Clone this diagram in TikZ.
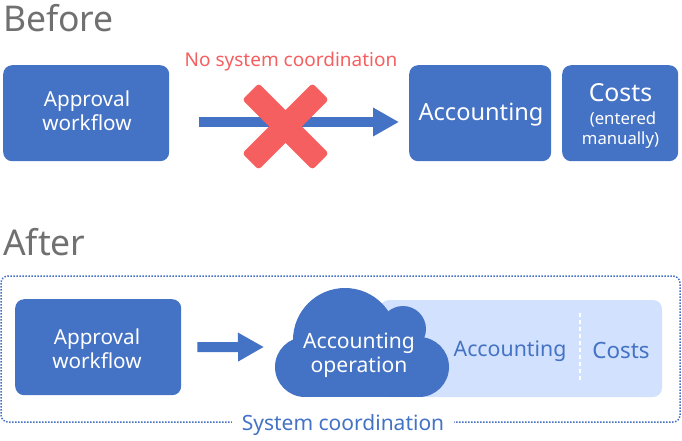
\documentclass[tikz,border=0pt]{standalone}
\usepackage{fontspec}
\setmainfont{Noto Sans}
\usetikzlibrary{arrows.meta}
\definecolor{boxblue}{HTML}{4472C4}
\definecolor{paleblue}{HTML}{D2E1FD}
\definecolor{crossred}{HTML}{F55F5F}
\definecolor{headgray}{HTML}{707070}
\tikzset{
  bluebox/.style={fill=boxblue, rounded corners=9pt, inner sep=0pt, anchor=north west},
  boxtext/.style={text=white, align=center, inner sep=0pt, font=\fontsize{20.7}{24}\selectfont},
  headline/.style={text=headgray, anchor=west, inner sep=0pt, font=\fontsize{35.5}{40}\selectfont},
  flow/.style={draw=boxblue, line width=10pt, -{Triangle[length=26pt,width=27pt]}},
  crossbar/.style={fill=crossred, minimum width=99pt, minimum height=23pt, rounded corners=3pt, inner sep=0pt},
  plainlabel/.style={text=boxblue, inner sep=0pt, font=\fontsize{21.3}{24}\selectfont}
}
\begin{document}
\begin{tikzpicture}[x=1pt, y=-1pt]
  \useasboundingbox (0,0) rectangle (682,440);

  % --- Before ---
  \node[headline] (before) at (3,18) {Before};
  \node[bluebox, minimum width=166pt, minimum height=96pt] (approvalB) at (3,65) {};
  \node[boxtext] (approvalBtext) at (87,111) {Approval\\workflow};
  \node[bluebox, minimum width=142pt, minimum height=96pt] (accountingB) at (409,65) {};
  \node[boxtext, font=\fontsize{23.6}{28}\selectfont] (accountingBtext) at (481,115) {Accounting};
  \node[bluebox, minimum width=116pt, minimum height=96pt] (costsB) at (562,65) {};
  \node[boxtext, font=\fontsize{16.7}{20}\selectfont] (costsBtext) at (620.5,116) {{\fontsize{24.8}{27}\selectfont Costs}\\[3pt]\hspace*{5pt}(entered\\manually)};

  \coordinate (flowStart) at (199,122);
  \coordinate (flowEnd) at (399,122);
  \draw[flow] (flowStart) -- (flowEnd);
  \node[crossbar, rotate=45] (crossA) at (285.5,126.5) {};
  \node[crossbar, rotate=-45] (crossB) at (285.5,126.5) {};
  \node[text=crossred, inner sep=0pt, font=\fontsize{19}{22}\selectfont] (nolink) at (291,62) {No system coordination};

  % --- After ---
  \node[headline] (after) at (3,242) {After};
  \draw[boxblue, line width=1.5pt, dash pattern=on 1.5pt off 1.5pt, rounded corners=7pt] (1,276) rectangle (680,422);
  \node[plainlabel, fill=white, inner xsep=10pt, inner ysep=2pt, font=\fontsize{21}{24}\selectfont] (syslink) at (343,425) {System coordination};

  \node[bluebox, minimum width=166pt, minimum height=96pt] (approvalA) at (15,299) {};
  \node[boxtext] (approvalAtext) at (97,349) {Approval\\workflow};
  \fill[paleblue, rounded corners=9pt] (380,300) rectangle (662,397);
  \draw[white, line width=1.7pt, dash pattern=on 4pt off 3pt] (580,313) -- (580,381);

  % cloud
  \fill[boxblue] (345,340) circle (52pt);
  \fill[boxblue] (403,329) circle (23pt);
  \fill[boxblue] (305,367) circle (30pt);
  \fill[boxblue] (419,367) circle (30pt);
  \fill[boxblue] (305,337) rectangle (419,397);
  \node[boxtext, font=\fontsize{21.1}{24}\selectfont] (cloudtext) at (359,355) {Accounting\\operation};

  \coordinate (flowEndA) at (264,347);
  \draw[flow] (approvalA.east) -- (flowEndA) [shorten <=16pt];

  \node[plainlabel] (accountingA) at (510,351) {Accounting};
  \node[plainlabel, font=\fontsize{22.4}{24}\selectfont] (costsA) at (621,350) {Costs};
\end{tikzpicture}
\end{document}
